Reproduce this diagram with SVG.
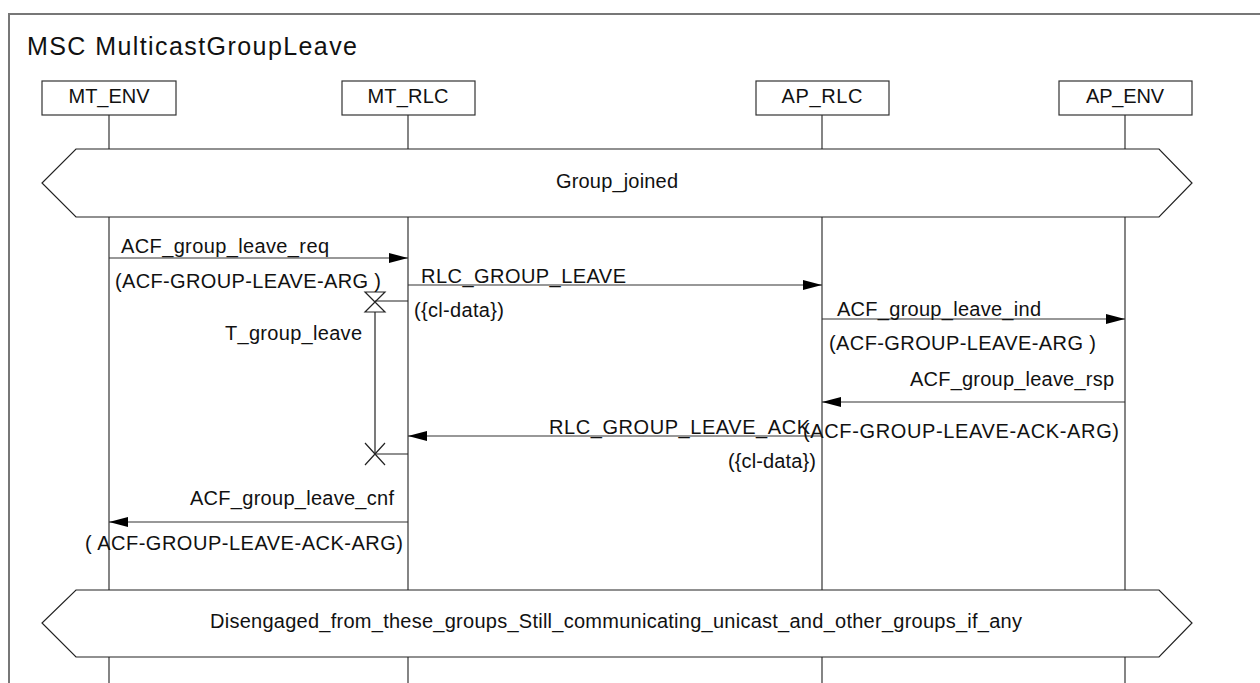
<svg xmlns="http://www.w3.org/2000/svg" width="1260" height="683" viewBox="0 0 1260 683">
  <defs>
    <marker id="arr" markerWidth="19" markerHeight="10" refX="19" refY="5" orient="auto" markerUnits="userSpaceOnUse">
      <path d="M0,0 L19,5 L0,10 Z" fill="#000"/>
    </marker>
    <style>
      text { font-family: "Liberation Sans", Arial, sans-serif; font-size: 20px; fill: #111; }
      .title { font-size: 25px; }
      .box { fill: #fff; stroke: #333; stroke-width: 1.2; }
      .life { stroke: #333; stroke-width: 1.2; fill: none; }
      .msg { stroke: #333; stroke-width: 1.2; fill: none; marker-end: url(#arr); }
      .cond { fill: #fff; stroke: #222; stroke-width: 1.2; }
      .tm { stroke: #222; stroke-width: 1.2; fill: none; }
      .mid { text-anchor: middle; }
    </style>
  </defs>
  <rect x="0" y="0" width="1260" height="683" fill="#fff"/>
  <rect x="9" y="14" width="1270" height="700" fill="none" stroke="#777" stroke-width="2"/>
  <text class="title" x="27" y="55" textLength="330" lengthAdjust="spacing">MSC MulticastGroupLeave</text>

  <g id="lifelines">
    <line class="life" x1="109" y1="115" x2="109" y2="683"/>
    <line class="life" x1="408" y1="115" x2="408" y2="683"/>
    <line class="life" x1="822" y1="115" x2="822" y2="683"/>
    <line class="life" x1="1125" y1="115" x2="1125" y2="683"/>
  </g>

  <g id="MT_ENV">
    <rect class="box" x="42" y="81" width="134" height="34"/>
    <text class="mid" x="109" y="103" textLength="81" lengthAdjust="spacing">MT_ENV</text>
  </g>
  <g id="MT_RLC">
    <rect class="box" x="342" y="81" width="133" height="34"/>
    <text class="mid" x="408" y="103" textLength="81" lengthAdjust="spacing">MT_RLC</text>
  </g>
  <g id="AP_RLC">
    <rect class="box" x="756" y="81" width="133" height="34"/>
    <text class="mid" x="822" y="103" textLength="81" lengthAdjust="spacing">AP_RLC</text>
  </g>
  <g id="AP_ENV">
    <rect class="box" x="1059" y="81" width="133" height="34"/>
    <text class="mid" x="1125" y="103" textLength="78" lengthAdjust="spacing">AP_ENV</text>
  </g>

  <g id="cond_group_joined">
    <polygon class="cond" points="76,149 1159,149 1192,183 1159,217 76,217 42,183"/>
    <text x="556" y="188" textLength="122" lengthAdjust="spacing">Group_joined</text>
  </g>

  <g id="timer_T_group_leave">
    <line class="tm" x1="375" y1="301" x2="408" y2="301"/>
    <path class="tm" d="M365,292 L385,292 L365,312 L385,312 Z"/>
    <line class="tm" x1="375" y1="312" x2="375" y2="454"/>
    <line class="tm" x1="375" y1="454" x2="408" y2="454"/>
    <path class="tm" d="M365,443 L385,465 M385,443 L365,465"/>
    <text x="225" y="340" textLength="137" lengthAdjust="spacing">T_group_leave</text>
  </g>

  <g id="connectors">
    <line class="msg" x1="109" y1="258" x2="408" y2="258"/>
    <line class="msg" x1="408" y1="285" x2="822" y2="285"/>
    <line class="msg" x1="822" y1="319" x2="1125" y2="319"/>
    <line class="msg" x1="1125" y1="402" x2="822" y2="402"/>
    <line class="msg" x1="822" y1="436" x2="408" y2="436"/>
    <line class="msg" x1="408" y1="522" x2="109" y2="522"/>
  </g>

  <g id="labels">
    <text x="121" y="253" textLength="208" lengthAdjust="spacing">ACF_group_leave_req</text>
    <text x="115" y="288" textLength="266" lengthAdjust="spacing">(ACF-GROUP-LEAVE-ARG )</text>
    <text x="421" y="283" textLength="205" lengthAdjust="spacing">RLC_GROUP_LEAVE</text>
    <text x="414" y="317" textLength="90" lengthAdjust="spacing">({cl-data})</text>
    <text x="837" y="316" textLength="204" lengthAdjust="spacing">ACF_group_leave_ind</text>
    <text x="829" y="350" textLength="267" lengthAdjust="spacing">(ACF-GROUP-LEAVE-ARG )</text>
    <text x="910" y="386" textLength="204" lengthAdjust="spacing">ACF_group_leave_rsp</text>
    <text x="549" y="434" textLength="261" lengthAdjust="spacing">RLC_GROUP_LEAVE_ACK</text>
    <text x="803" y="438" textLength="316" lengthAdjust="spacing">(ACF-GROUP-LEAVE-ACK-ARG)</text>
    <text x="728" y="468" textLength="88" lengthAdjust="spacing">({cl-data})</text>
    <text x="190" y="505" textLength="204" lengthAdjust="spacing">ACF_group_leave_cnf</text>
    <text x="85" y="550" textLength="318" lengthAdjust="spacing">( ACF-GROUP-LEAVE-ACK-ARG)</text>
  </g>

  <g id="cond_disengaged">
    <polygon class="cond" points="76,590 1159,590 1192,623 1159,657 76,657 42,623"/>
    <text x="210" y="628" textLength="812" lengthAdjust="spacing">Disengaged_from_these_groups_Still_communicating_unicast_and_other_groups_if_any</text>
  </g>
</svg>
